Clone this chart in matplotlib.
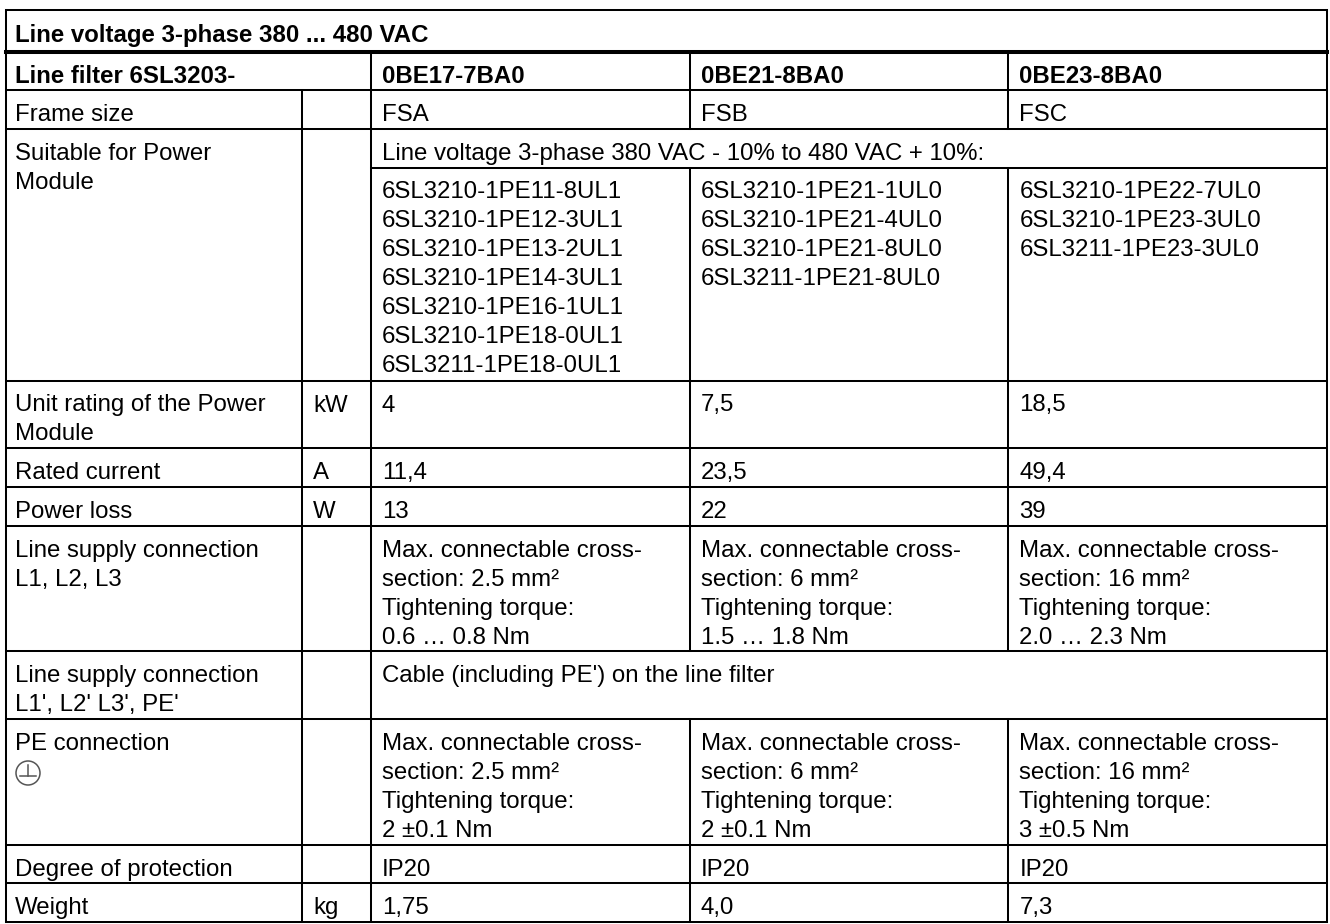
import matplotlib.pyplot as plt
from matplotlib.patches import Circle

plt.rcParams['font.family'] = ['Liberation Sans', 'DejaVu Sans']

# table content
title = "Line voltage 3-phase 380 ... 480 VAC"
filter_label = "Line filter 6SL3203-"
filter_types = ["0BE17-7BA0", "0BE21-8BA0", "0BE23-8BA0"]
frame_sizes = ["FSA", "FSB", "FSC"]
suitable_note = "Line voltage 3-phase 380 VAC - 10% to 480 VAC + 10%:"
power_modules = [
    ["6SL3210-1PE11-8UL1", "6SL3210-1PE12-3UL1", "6SL3210-1PE13-2UL1",
     "6SL3210-1PE14-3UL1", "6SL3210-1PE16-1UL1", "6SL3210-1PE18-0UL1",
     "6SL3211-1PE18-0UL1"],
    ["6SL3210-1PE21-1UL0", "6SL3210-1PE21-4UL0", "6SL3210-1PE21-8UL0",
     "6SL3211-1PE21-8UL0"],
    ["6SL3210-1PE22-7UL0", "6SL3210-1PE23-3UL0", "6SL3211-1PE23-3UL0"],
]
unit_rating = ["4", "7,5", "18,5"]
rated_current = ["11,4", "23,5", "49,4"]
power_loss = ["13", "22", "39"]
cross_sections = ["2.5", "6", "16"]
line_torques = ["0.6 … 0.8 Nm", "1.5 … 1.8 Nm", "2.0 … 2.3 Nm"]
output_note = "Cable (including PE') on the line filter"
pe_torques = ["2 ±0.1 Nm", "2 ±0.1 Nm", "3 ±0.5 Nm"]
protection = ["IP20", "IP20", "IP20"]
weights = ["1,75", "4,0", "7,3"]

# layout in pixels (figure is 1330 x 924 at dpi 100)
X_LEFT, X_UNIT, X_VAL, X_RIGHT = 6, 302, 371, 1327
COL_W = (X_RIGHT - X_VAL) / 3
Y_TOP = 10
LINE_H = 29      # text line spacing
PAD = 9.7        # extra height per row
FS = 17.3
LW = 1.45
LW_THICK = 2.9

fig = plt.figure(figsize=(13.3, 9.24), dpi=100)
ax = fig.add_axes([0, 0, 1, 1])
ax.set_xlim(0, 1330)
ax.set_ylim(924, 0)
ax.axis('off')


def connection_text(cs, torque):
    return ["Max. connectable cross-", f"section: {cs} mm\u00b2",
            "Tightening torque:", torque]


def put(x, y_top, lines, bold=False):
    """텍스트 여러 줄을 행 상단 기준으로 배치"""
    for i, s in enumerate(lines):
        ax.text(x, y_top + 31 + i * LINE_H, s, ha='left', va='baseline',
                fontsize=FS, fontweight='bold' if bold else 'normal',
                color='black')


def hline(y, x0=X_LEFT, x1=X_RIGHT, lw=LW):
    ax.plot([x0, x1], [y, y], color='black', lw=lw, solid_capstyle='projecting')


def vline(x, y0, y1):
    ax.plot([x, x], [y0, y1], color='black', lw=LW, solid_capstyle='projecting')


def col_x(i):
    return X_VAL + i * COL_W


# rows: (label lines, unit, values per column or a merged text, number of lines)
rows = [
    (["Frame size"], "", [[v] for v in frame_sizes], None),
    (["Suitable for Power", "Module"], "", [m for m in power_modules], suitable_note),
    (["Unit rating of the Power", "Module"], "kW", [[v] for v in unit_rating], None),
    (["Rated current"], "A", [[v] for v in rated_current], None),
    (["Power loss"], "W", [[v] for v in power_loss], None),
    (["Line supply connection", "L1, L2, L3"], "",
     [connection_text(c, t) for c, t in zip(cross_sections, line_torques)], None),
    (["Line supply connection", "L1', L2' L3', PE'"], "", [output_note], 'merged'),
    (["PE connection", ""], "",
     [connection_text(c, t) for c, t in zip(cross_sections, pe_torques)], None),
    (["Degree of protection"], "", [[v] for v in protection], None),
    (["Weight"], "kg", [[v] for v in weights], None),
]

# title row
y = Y_TOP
hline(y)
title_h = LINE_H + PAD + 3
put(X_LEFT + 9, y + 1, [title], bold=True)
y += title_h
hline(y, lw=LW_THICK)
y_header = y

# line filter row
put(X_LEFT + 9, y, [filter_label], bold=True)
for i, t in enumerate(filter_types):
    put(col_x(i) + 11, y, [t], bold=True)
y += LINE_H + PAD
hline(y)
y_body = y

split_spans = []  # (y0, y1) where value columns are separated

for label, unit, values, extra in rows:
    row_top = y
    if extra == 'merged':
        n = max(len(label), 2)
        h = n * LINE_H + PAD
        put(X_LEFT + 9, y, label)
        put(col_x(0) + 11, y, values)
    elif extra is not None:
        # sub header spanning all value columns
        put(X_LEFT + 9, y, label)
        put(col_x(0) + 11, y, [extra])
        sub_h = LINE_H + PAD
        hline(y + sub_h, X_VAL, X_RIGHT)
        n = max(len(v) for v in values)
        h = sub_h + n * LINE_H + PAD
        for i, v in enumerate(values):
            put(col_x(i) + 11, y + sub_h - 1, v)
        split_spans.append((y + sub_h, y + h))
    else:
        n = max(len(label), max(len(v) for v in values))
        h = n * LINE_H + PAD
        put(X_LEFT + 9, y, label)
        for i, v in enumerate(values):
            put(col_x(i) + 11, y, v)
        split_spans.append((y, y + h))
    if unit:
        put(X_UNIT + 11, y, [unit])
    if label[0] == "PE connection":
        # protective earth symbol
        cx, cy, r = X_LEFT + 22, y + 31 + LINE_H - 6, 12
        ax.add_patch(Circle((cx, cy), r, fill=False, ec='#555555', lw=1.1))
        ax.plot([cx, cx], [cy - 8, cy + 3], color='#555555', lw=1.1)
        ax.plot([cx - 8, cx + 8], [cy + 3, cy + 3], color='#555555', lw=1.1)
    y += h
    hline(y)

y_bottom = y

# vertical lines
vline(X_LEFT, Y_TOP, y_bottom)
vline(X_RIGHT, Y_TOP, y_bottom)
vline(X_UNIT, y_body, y_bottom)
vline(X_VAL, y_header, y_bottom)
vline(col_x(1), y_header, y_body)
vline(col_x(2), y_header, y_body)
for y0, y1 in split_spans:
    vline(col_x(1), y0, y1)
    vline(col_x(2), y0, y1)

fig.savefig('out.png', dpi=100, facecolor='white')
